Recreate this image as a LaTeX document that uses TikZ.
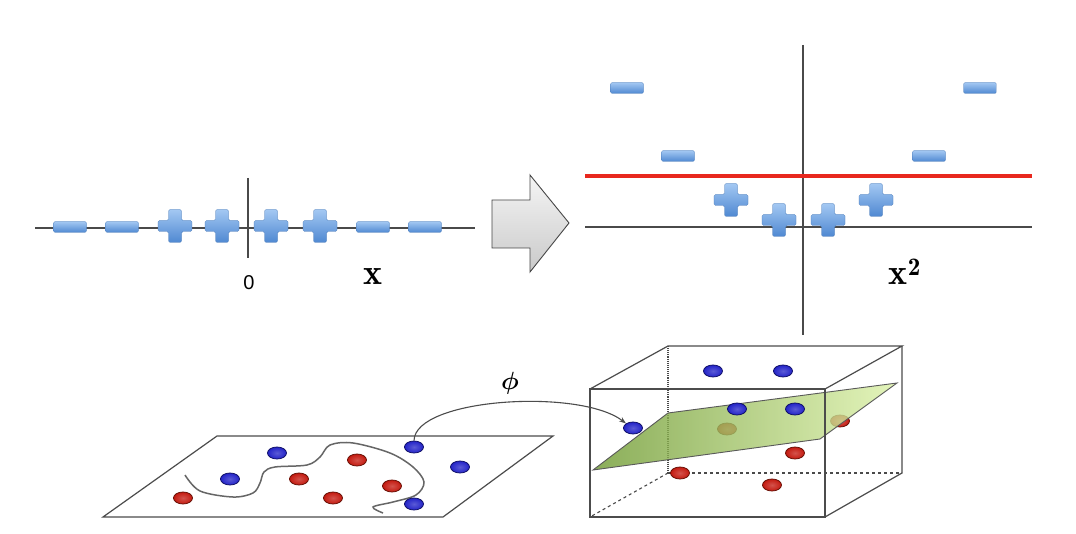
\documentclass[tikz,border=0pt]{standalone}
\usepackage{fontspec}
\usepackage{amsmath}
\newfontfamily\sansf{Liberation Sans}
\usetikzlibrary{arrows.meta,shapes.geometric}
\definecolor{markhi}{HTML}{A3C8F2}
\definecolor{marklo}{HTML}{4F88D2}
\definecolor{axisc}{HTML}{4A4A4A}
\definecolor{redline}{HTML}{E8281E}
\definecolor{dotblue}{HTML}{2424C8}
\definecolor{dotblueb}{HTML}{12126A}
\definecolor{dotred}{HTML}{C41A10}
\definecolor{dotredb}{HTML}{6A1208}
\definecolor{planedark}{HTML}{6E9A30}
\definecolor{planelight}{HTML}{DDF2AA}
\tikzset{
  axis/.style={draw=axisc, line width=1.1pt},
  frame/.style={draw=black!70, line width=1.2pt},
  minusmark/.style={rectangle, rounded corners=1.5pt, minimum width=33pt, minimum height=11pt, inner sep=0pt,
    top color=markhi, bottom color=marklo, draw=marklo!85!black, line width=0.3pt},
  plusmark/.pic={\shade[top color=markhi, bottom color=marklo, draw=marklo!85!black, line width=0.3pt, rounded corners=1.5pt]
    (-6.5,-16.5) -- (6.5,-16.5) -- (6.5,-5.5) -- (17,-5.5) -- (17,5.5) -- (6.5,5.5) -- (6.5,16.5) -- (-6.5,16.5)
    -- (-6.5,5.5) -- (-17,5.5) -- (-17,-5.5) -- (-6.5,-5.5) -- cycle;},
  dot/.style={ellipse, minimum width=19pt, minimum height=12pt, inner sep=0pt, line width=0.8pt},
  bdot/.style={dot, draw=dotblueb, inner color=dotblue!75!white, outer color=dotblue},
  rdot/.style={dot, draw=dotredb, inner color=dotred!75!white, outer color=dotred},
  lbl/.style={inner sep=0pt, anchor=base},
}
\begin{document}
\begin{tikzpicture}[x=1pt,y=-1pt]
\useasboundingbox (0,0) rectangle (1076,534);
\fill[white] (0,0) rectangle (1076,534);

% ---------- top left: 1D data ----------
\coordinate (hl0) at (35,228);
\coordinate (hl1) at (475,228);
\coordinate (vl0) at (248,178);
\coordinate (vl1) at (248,258);
\draw[axis] (hl0) -- (hl1);
\draw[axis] (vl0) -- (vl1);
\node[minusmark] (m1) at (70,227) {};
\node[minusmark] (m2) at (122,227) {};
\pic at (175,226) {plusmark};
\pic at (222,226) {plusmark};
\pic at (271,226) {plusmark};
\pic at (320,226) {plusmark};
\node[minusmark] (m3) at (373,227) {};
\node[minusmark] (m4) at (425,227) {};
\node[lbl] (zero) at (249,290) {\fontsize{20}{24}\selectfont\sansf 0};
\node[lbl] (xl) at (373,285) {\fontsize{36}{40}\selectfont$\mathbf{x}$};

% ---------- big arrow ----------
\shade[top color=gray!8, bottom color=gray!42, draw=gray!55!black, line width=0.9pt]
  (492,200) -- (530,200) -- (530,175) -- (569,223) -- (530,272) -- (530,248) -- (492,248) -- cycle;

% ---------- top right: x^2 ----------
\coordinate (rv0) at (803,45);
\coordinate (rv1) at (803,335);
\coordinate (rh0) at (585,227);
\coordinate (rh1) at (1032,227);
\coordinate (rr0) at (585,176);
\coordinate (rr1) at (1032,176);
\draw[axis] (rv0) -- (rv1);
\draw[axis] (rh0) -- (rh1);
\draw[draw=redline, line width=3.5pt] (rr0) -- (rr1);
\node[minusmark] (n1) at (627,88) {};
\node[minusmark] (n2) at (678,156) {};
\node[minusmark] (n3) at (929,156) {};
\node[minusmark] (n4) at (980,88) {};
\pic at (731,200) {plusmark};
\pic at (779,220) {plusmark};
\pic at (828,220) {plusmark};
\pic at (876,200) {plusmark};
\node[lbl] (x2l) at (905,285) {\fontsize{36}{40}\selectfont$\mathbf{x}^{\mathbf{2}}$};

% ---------- bottom left: plane with data ----------
\coordinate (p1) at (217,436);
\coordinate (p2) at (553,436);
\coordinate (p3) at (443,517);
\coordinate (p4) at (103,517);
\draw[frame, fill=white] (p1) -- (p2) -- (p3) -- (p4) -- cycle;
\draw[line width=1.5pt, black!60] plot[smooth, tension=0.55] coordinates {
  (185,475) (200,491) (233,497) (253,493) (260,483) (264,472) (275,467) (307,465)
  (320,457) (330,445) (353,443) (390,453) (413,467) (424,482) (416,495) (393,502) (373,507) (383,513)};
\node[bdot] (b1) at (277,453) {};
\node[bdot] (b2) at (230,479) {};
\node[rdot] (r1) at (183,498) {};
\node[rdot] (r2) at (299,479) {};
\node[rdot] (r3) at (357,460) {};
\node[rdot] (r4) at (333,498) {};
\node[rdot] (r5) at (392,486) {};
\node[bdot] (b3) at (414,447) {};
\node[bdot] (b4) at (460,467) {};
\node[bdot] (b5) at (414,504) {};

% ---------- bottom right: cube ----------
\coordinate (f1) at (590,389);
\coordinate (f2) at (825,389);
\coordinate (f3) at (825,517);
\coordinate (f4) at (590,517);
\coordinate (k1) at (668,346);
\coordinate (k2) at (902,346);
\coordinate (k3) at (902,473);
\coordinate (k4) at (668,473);
\draw[axis, densely dotted, line width=1.3pt] (k1) -- (k4);
\draw[axis, dashed] (k4) -- (k3);
\draw[axis, dashed] (k4) -- (f4);
\node[rdot] (s1) at (727,429) {};
\node[rdot] (s2) at (840,421) {};
\node[rdot] (s3) at (795,453) {};
\node[rdot] (s4) at (680,473) {};
\node[rdot] (s5) at (772,485) {};
\node[bdot] (c1) at (713,371) {};
\node[bdot] (c2) at (783,371) {};
\node[bdot] (c5) at (633,428) {};
\coordinate (g1) at (593,470);
\coordinate (g2) at (668,413);
\coordinate (g3) at (897,383);
\coordinate (g4) at (820,439);
\shade[left color=planedark, right color=planelight, fill opacity=0.8] (g1) -- (g2) -- (g3) -- (g4) -- cycle;
\draw[black!65, line width=0.9pt] (g1) -- (g2) -- (g3) -- (g4) -- cycle;
\node[bdot] (c3) at (737,409) {};
\node[bdot] (c4) at (795,409) {};
\draw[frame] (f1) -- (f2) -- (f3) -- (f4) -- cycle;
\draw[frame] (f1) -- (k1) -- (k2) -- (f2);
\draw[frame] (k2) -- (k3) -- (f3);

% ---------- phi mapping ----------
\draw[black!70, line width=1.1pt, -{Stealth[length=7pt,width=5pt]}]
  (b3.north) .. controls (415,398) and (580,388) .. (c5.north west);
\node[inner sep=0pt] (phi) at (510,383) {\fontsize{30}{34}\usefont{OML}{cmm}{b}{it}\char30};
\end{tikzpicture}
\end{document}
